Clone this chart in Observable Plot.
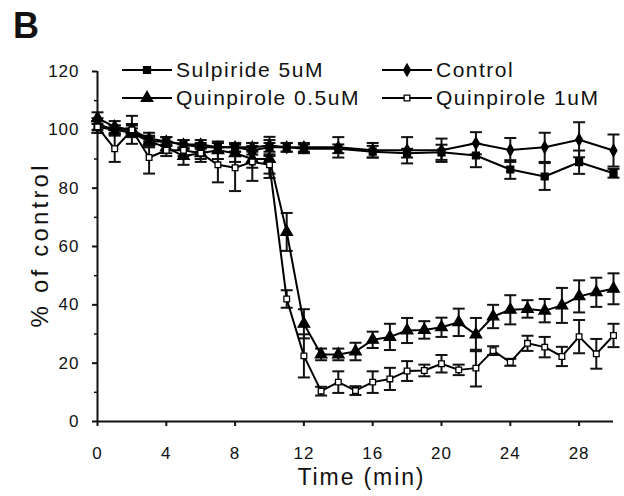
<!DOCTYPE html>
<html><head><meta charset="utf-8">
<script src="https://cdn.jsdelivr.net/npm/d3@7"></script>
<script src="https://cdn.jsdelivr.net/npm/@observablehq/plot@0.6"></script>
<style>
body{margin:0;background:#fff;}
#chart{width:624px;height:496px;}
#chart svg text{letter-spacing:1px;}
</style></head><body><div id="chart"></div>
<script>
// ---- data ----
const panelLabel = "B";
const xLabel = "Time (min)";
const yLabel = "% of control";
const xTicks = [0, 4, 8, 12, 16, 20, 24, 28];
const yTicks = [0, 20, 40, 60, 80, 100, 120];
const yMinorTicks = [10, 30, 50, 70, 90, 110];
const seriesNames = ["Sulpiride 5uM", "Control", "Quinpirole 0.5uM", "Quinpirole 1uM"];

const timeQ = [0,1,2,3,4,5,6,7,8,9,10,11,12,13,14,15,16,17,18,19,20,21,22,23,24,25,26,27,28,29,30];
const timeC = [0,1,2,3,4,5,6,7,8,9,10,11,12,14,16,18,20,22,24,26,28,30];

const sulpVal = [101,100,99,96,96,95,94,94,94,93,94,94,93.5,93.5,92.5,92,92.3,91.2,86.4,84,88.9,85.1];
const sulpErr = [2,1.5,1.5,1.5,1.5,1.5,1.5,1.5,1.5,1.5,1.5,1.5,1.5,1.5,2,1.5,2.6,4,3.2,4.6,4,1.5];

const ctrlVal = [102,100,100,97,96,95,95,94,94,94,94.6,94,94,94,93,93,93,95.4,93.1,94,96.6,92.9];
const ctrlErr = [2,1.5,1.5,2,1.5,1.5,1.5,1.5,1.5,1.5,3,1.5,1.5,3.5,2.5,4.5,4,3.8,4.1,5,6,5.5];

const q05Val = [104,101,100,96,94,91,92,93,92,90,90,65,33.5,23,23,24,28,29,31.2,31.4,32.3,34,29.8,36,38.3,38.6,38,39.8,42.9,44.3,45.5];
const q05Err = [2,2,2,2,2,3,3,3,3,3,6.5,6.5,5,2,2,3,2.8,4.5,4.3,3,3.3,4.7,5.7,4,5,3,4,6,5.5,5,5.3];

const q1Val = [101,93.5,100,90.5,93,93,92,88,87,89,88,42,22.5,10.4,13.5,10.6,13.5,14.6,17.3,17.5,19.8,17.7,18.3,24.3,20.3,26.8,25.5,22.3,29.1,23.2,29.5];
const q1Err = [2,4.5,4.8,5.5,2,2,2,6,8,6.5,3,3,7.4,1.5,3.7,1.5,3.7,3.8,3.4,2,3,1.8,6.3,1.5,1.2,2.6,3.5,3.3,5.7,5.1,4];

// ---- tidy table ----
const rows = [];
function add(name, times, vals, errs) {
  times.forEach((t, i) => rows.push({series: name, t, v: vals[i], e: errs[i]}));
}
add(seriesNames[2], timeQ, q05Val, q05Err);
add(seriesNames[3], timeQ, q1Val, q1Err);
add(seriesNames[0], timeC, sulpVal, sulpErr);
add(seriesNames[1], timeC, ctrlVal, ctrlErr);

const symbolOf = {
  "Sulpiride 5uM": {symbol: "square", fill: "black", r: 3.9},
  "Control": {symbol: "diamond", fill: "black", r: 3.6},
  "Quinpirole 0.5uM": {symbol: "triangle", fill: "black", r: 4.3},
  "Quinpirole 1uM": {symbol: "square", fill: "white", r: 3.2}
};

const W = 624, H = 496;
const mL = 97, mR = 11, mT = 71, mB = 75;
const pxPerMin = (W - mL - mR) / 30;
const capHalf = 6 / pxPerMin;
const font = "'Liberation Sans', Arial, sans-serif";

const marks = [
  Plot.axisY({ticks: yMinorTicks, tickSize: 3, text: null, strokeWidth: 1.5, label: null}),
  Plot.axisY({ticks: yTicks, tickSize: 5, tickPadding: 13, fontSize: 17, strokeWidth: 2, label: null}),
  Plot.axisX({ticks: xTicks, tickSize: 5, tickPadding: 20, fontSize: 17, strokeWidth: 2, label: null}),
  Plot.ruleY([0], {strokeWidth: 2}),
  Plot.ruleX([0], {strokeWidth: 2}),
  // error bars
  Plot.ruleX(rows, {x: "t", y1: d => d.v - d.e, y2: d => d.v + d.e, strokeWidth: 2}),
  Plot.link(rows, {x1: d => d.t - capHalf, x2: d => d.t + capHalf, y1: d => d.v + d.e, y2: d => d.v + d.e, strokeWidth: 2}),
  Plot.link(rows, {x1: d => d.t - capHalf, x2: d => d.t + capHalf, y1: d => d.v - d.e, y2: d => d.v - d.e, strokeWidth: 2}),
  Plot.line(rows, {x: "t", y: "v", z: "series", stroke: "black", strokeWidth: 2}),
  ...seriesNames.map(s => Plot.dot(rows.filter(d => d.series === s), {
    x: "t", y: "v", symbol: () => symbolOf[s].symbol, fill: symbolOf[s].fill,
    stroke: "black", strokeWidth: 1.3, r: symbolOf[s].r
  })),
  Plot.text([xLabel], {frameAnchor: "bottom", dx: 5, dy: 56, fontSize: 23, lineAnchor: "middle", textAnchor: "middle"}),
  Plot.text([yLabel], {frameAnchor: "left", dx: -57, rotate: -90, fontSize: 24, lineAnchor: "middle", textAnchor: "middle"})
];

const svg = Plot.plot({
  width: W, height: H,
  marginLeft: mL, marginRight: mR, marginTop: mT, marginBottom: mB,
  x: {domain: [0, 30]},
  y: {domain: [0, 120]},
  symbol: {type: "identity"},
  style: {fontFamily: font, background: "white", color: "#111"},
  marks
});
document.getElementById("chart").appendChild(svg);
d3.select(svg).selectAll("g[aria-label='text'] text").each(function() {
  const t = d3.select(this);
  t.style("letter-spacing", "0px").attr("lengthAdjust", "spacing");
  if (t.text() === xLabel) t.attr("textLength", 126);
  if (t.text() === yLabel) t.attr("textLength", 162);
});

// ---- panel letter and in-plot legend ----
const s = d3.select(svg);
s.append("text").attr("x", 13).attr("y", 38).attr("font-size", 36).attr("font-weight", "bold")
  .attr("text-anchor", "start")
  .attr("font-family", font).attr("fill", "#111").style("letter-spacing", "0px").text(panelLabel);

const d3sym = {square: d3.symbolSquare, diamond: d3.symbolDiamond, triangle: d3.symbolTriangle};
const legendPos = [
  {name: seriesNames[0], x: 122, y: 70},
  {name: seriesNames[1], x: 382, y: 70},
  {name: seriesNames[2], x: 122, y: 98},
  {name: seriesNames[3], x: 382, y: 98}
];
const lg = s.append("g");
legendPos.forEach(p => {
  const sy = symbolOf[p.name];
  lg.append("line").attr("x1", p.x).attr("x2", p.x + 50).attr("y1", p.y).attr("y2", p.y)
    .attr("stroke", "black").attr("stroke-width", 2);
  lg.append("path").attr("transform", `translate(${p.x + 25},${p.y})`)
    .attr("d", d3.symbol().type(d3sym[sy.symbol]).size(sy.r * sy.r * Math.PI)())
    .attr("fill", sy.fill).attr("stroke", "black").attr("stroke-width", 1.3);
  lg.append("text").attr("x", p.x + 54).attr("y", p.y).attr("dy", "0.35em")
    .attr("text-anchor", "start")
    .attr("font-size", 21).attr("font-family", font).attr("fill", "#111")
    .style("letter-spacing", "1.5px").text(p.name);
});
</script></body></html>
